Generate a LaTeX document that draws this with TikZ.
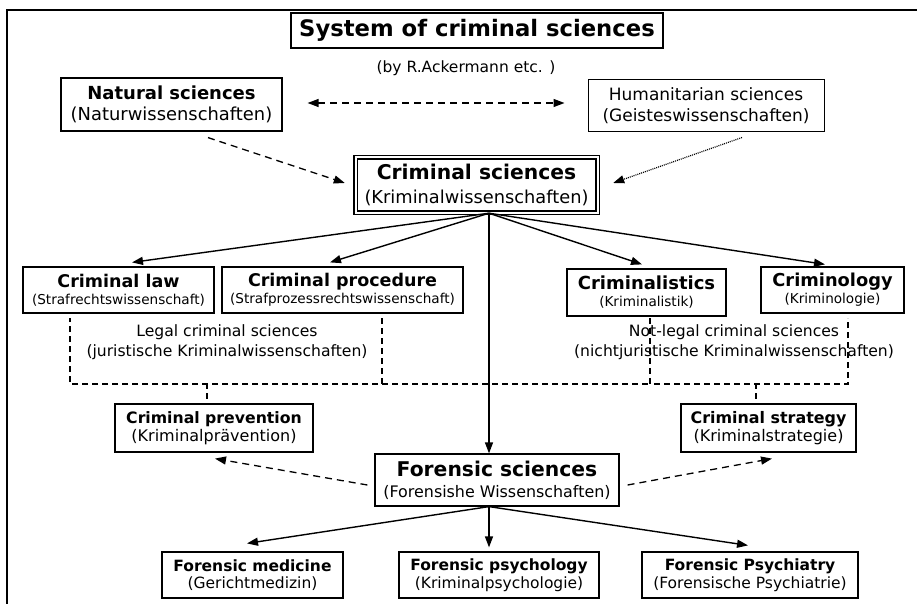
\documentclass[tikz,border=0pt]{standalone}
\usepackage{fontspec}
\setmainfont{DejaVu Sans}
\usetikzlibrary{arrows.meta,calc}
\newcommand{\fsz}[2]{\fontsize{#1}{#2}\selectfont}
\begin{document}
\begin{tikzpicture}[x=1pt,y=-1pt,
  box/.style={draw, line width=1.2pt, fill=white, inner sep=0pt, align=center},
  arr/.style={-{Triangle[length=11pt,width=8pt]}, line width=1.4pt},
  dasharr/.style={-{Triangle[length=11pt,width=8pt]}, line width=1.3pt, dash pattern=on 7pt off 5pt},
  dashline/.style={line width=1.3pt, dash pattern=on 6pt off 4pt},
  dotarr/.style={-{Triangle[length=11pt,width=8pt]}, line width=1.2pt, dash pattern=on 1pt off 1pt},
  lbl/.style={inner sep=0pt, align=center}]
\useasboundingbox (0,0) rectangle (917,604);
\fill[white] (0,0) rectangle (917,604);
% outer frame (left and top)
\draw[line width=2pt] (7,604) -- (7,10) -- (917,10);

% title
\node[box, line width=2pt, minimum width=372pt, minimum height=35pt, font=\bfseries\fsz{22.7}{26}] (title) at (477,30.5) {System of criminal sciences};
\node[lbl, font=\fsz{15.5}{18}] (by) at (466,68) {(by R.Ackermann etc. )};

% natural and humanitarian
\node[box, minimum width=221pt, minimum height=53pt, font=\fsz{17.9}{21}] (nat) at (171.5,104.5) {{\bfseries\fsz{18}{21}Natural sciences}\\(Naturwissenschaften)};
\node[box, line width=1pt, minimum width=236pt, minimum height=52pt, font=\fsz{17}{21}] (hum) at (706,106) {Humanitarian sciences\\(Geisteswissenschaften)};

% criminal sciences
\node[box, line width=1.4pt, double, double distance=2pt, minimum width=242pt, minimum height=55pt, font=\fsz{17.8}{24}] (cs) at (476.5,185) {{\bfseries\fsz{20.3}{24}Criminal sciences}\\(Kriminalwissenschaften)};

% four sciences
\node[box, minimum width=191pt, minimum height=46pt, font=\fsz{13.6}{17}] (law) at (118.5,290) {{\bfseries\fsz{17.5}{20}Criminal law}\\(Strafrechtswissenschaft)};
\node[box, minimum width=241pt, minimum height=46pt, font=\fsz{13.6}{17}] (proc) at (342.5,290) {{\bfseries\fsz{17.5}{20}Criminal procedure}\\(Strafprozessrechtswissenschaft)};
\node[box, minimum width=159pt, minimum height=47pt, font=\fsz{13.6}{17}] (clx) at (646.5,292.5) {{\bfseries\fsz{18}{20}Criminalistics}\\(Kriminalistik)};
\node[box, minimum width=143pt, minimum height=46pt, font=\fsz{13.6}{17}] (clg) at (832.5,290) {{\bfseries\fsz{17.8}{20}Criminology}\\(Kriminologie)};

% group labels
\node[lbl, font=\fsz{15.6}{20}] (legal) at (227,342) {Legal criminal sciences\\(juristische Kriminalwissenschaften)};
\node[lbl, font=\fsz{15.6}{20}] (notlegal) at (734,342) {Not-legal criminal sciences\\(nichtjuristische Kriminalwissenschaften)};

% prevention / strategy
\node[box, minimum width=198pt, minimum height=48pt, font=\fsz{16}{18}] (prev) at (214,428) {{\bfseries\fsz{15.7}{18}Criminal prevention}\\(Kriminalprävention)};
\node[box, minimum width=175pt, minimum height=48pt, font=\fsz{16}{18}] (strat) at (768.5,428) {{\bfseries\fsz{15.9}{18}Criminal strategy}\\(Kriminalstrategie)};

% forensic sciences
\node[box, minimum width=244pt, minimum height=52pt, font=\fsz{15.9}{21}] (fs) at (497,480) {{\bfseries\fsz{20.3}{23}Forensic sciences}\\(Forensishe Wissenschaften)};

% bottom row
\node[box, minimum width=181pt, minimum height=46pt, font=\fsz{15.5}{17.5}] (med) at (252.5,575) {{\bfseries Forensic medicine}\\(Gerichtmedizin)};
\node[box, minimum width=200pt, minimum height=46pt, font=\fsz{15.5}{17.5}] (psy) at (499,575) {{\bfseries Forensic psychology}\\(Kriminalpsychologie)};
\node[box, minimum width=216pt, minimum height=46pt, font=\fsz{15.5}{17.5}] (psych) at (750,575) {{\bfseries Forensic Psychiatry}\\(Forensische Psychiatrie)};

% dashed brackets
\coordinate (lb1) at (70,318);
\coordinate (lb2) at (70,384);
\coordinate (lb3) at (382,384);
\coordinate (lb4) at (382,318);
\coordinate (nb1) at (650,318);
\coordinate (nb2) at (650,384);
\coordinate (nb3) at (848,384);
\coordinate (nb4) at (848,318);
\draw[dashline] (lb4) -- (lb3) -- (lb2) -- (lb1);
\draw[dashline] (lb3) -- (nb2);
\draw[dashline] (nb1) -- (nb2) -- (nb3) -- (nb4);
\draw[dashline] ($(prev.north)+(-7,-20)$) -- ($(prev.north)+(-7,0)$);
\draw[dashline] ($(strat.north)+(-12.5,-20)$) -- ($(strat.north)+(-12.5,0)$);

% arrows from criminal sciences
\coordinate (csb) at ($(cs.south)+(12.5,0)$);
\draw[arr] (csb) -- ($(law.north)+(13.5,-4)$);
\draw[arr] (csb) -- ($(proc.north)+(-12.5,-4)$);
\draw[arr] (csb) -- ($(clx.north)+(-4.5,-4)$);
\draw[arr] (csb) -- ($(clg.north)+(-7.5,-2)$);
\draw[arr] (csb) -- ($(fs.north)+(-8,0)$);

% arrows from forensic sciences
\coordinate (fsb) at ($(fs.south)+(-8,0)$);
\draw[arr] (fsb) -- ($(med.north)+(-5.5,-8)$);
\draw[arr] (fsb) -- ($(psy.north)+(-10,-4)$);
\draw[arr] (fsb) -- ($(psych.north)+(-2,-6)$);

% dashed arrows
\draw[dasharr, {Triangle[length=11pt,width=8pt]}-{Triangle[length=11pt,width=8pt]}] ($(nat.east)+(25,-1.5)$) -- ($(hum.west)+(-23,-3)$);
\draw[dasharr] ($(nat.south)+(36.5,6)$) -- ($(cs.west)+(-10,-2)$);
\draw[dotarr] ($(hum.south)+(36,5)$) -- ($(cs.east)+(15,-2)$);
\draw[dasharr] ($(fs.west)+(-7,5)$) -- ($(prev.south)+(1,6)$);
\draw[dasharr] ($(fs.east)+(8,5)$) -- ($(strat.south)+(3.5,6)$);
\end{tikzpicture}
\end{document}
